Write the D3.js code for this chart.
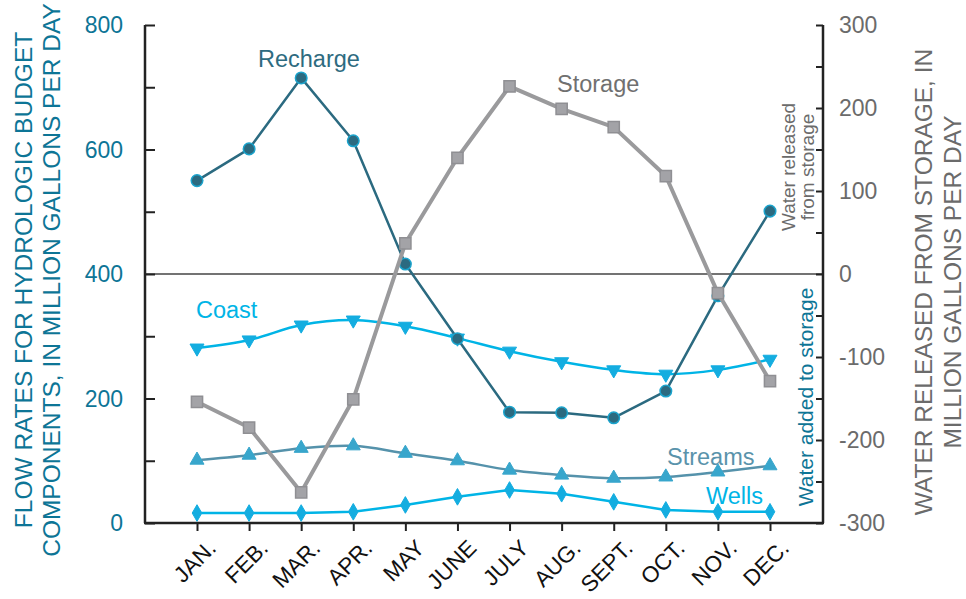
<!DOCTYPE html>
<html><head><meta charset="utf-8">
<script src="https://cdn.jsdelivr.net/npm/d3@7"></script>
<style>body{margin:0;background:#fff}svg{display:block;font-family:"Liberation Sans",Arial,sans-serif}</style>
</head><body><svg id="c" width="966" height="599"></svg>
<script>
const months = ["JAN.","FEB.","MAR.","APR.","MAY","JUNE","JULY","AUG.","SEPT.","OCT.","NOV.","DEC."];
const recharge = [550,601,715,614,416,296,178,177,169,212,365,501];
const storage  = [-154,-185,-263,-151,37,140,226,199,177,118,-23,-129];
const coast    = [281,294,318,326,316,297,276,259,246,239,246,263];
const streams  = [101,109,120,124,112,100,85,77,72,74,82,92];
const wells    = [16,16,16,18,29,42,53,47,34,21,18,18];
const leftTicks = [0,200,400,600,800];
const rightTicks = [-300,-200,-100,0,100,200,300];

const svg = d3.select("#c");
const L=145, R=823, T=25, B=523;
const x = d3.scalePoint().domain(months).range([197,770]);
const yL = d3.scaleLinear().domain([0,800]).range([B,T]);
const yR = d3.scaleLinear().domain([-300,300]).range([B,T]);

const teal="#0d7596", gray="#6b6b6b";

// zero line
svg.append("line").attr("x1",L).attr("x2",R).attr("y1",yR(0)).attr("y2",yR(0)).attr("stroke","#444").attr("stroke-width",1.5);

// left axis
const gl = svg.append("g").attr("transform",`translate(${L},0)`)
  .call(d3.axisRight(yL).tickValues(d3.range(0,801,100)).tickSize(10).tickFormat(""));
gl.select(".domain").attr("stroke","#222").attr("stroke-width",2.5).attr("d",`M0,${T}V${B}`);
gl.selectAll(".tick line").attr("stroke","#222").attr("stroke-width",2);
svg.append("g").selectAll("text").data(leftTicks).join("text")
  .attr("x",123).attr("y",d=>yL(d)).attr("dy","0.36em").attr("text-anchor","end")
  .attr("font-size",23).attr("fill",teal).text(d=>d);

// right axis
const gr = svg.append("g").attr("transform",`translate(${R},0)`)
  .call(d3.axisLeft(yR).tickValues(d3.range(-300,301,50)).tickSize(7).tickFormat(""));
gr.select(".domain").attr("stroke","#222").attr("stroke-width",2.5).attr("d",`M0,${T}V${B}`);
gr.selectAll(".tick line").attr("stroke","#222").attr("stroke-width",2);
svg.append("g").selectAll("text").data(rightTicks).join("text")
  .attr("x",839).attr("y",d=>yR(d)).attr("dy","0.36em").attr("text-anchor","start")
  .attr("font-size",23).attr("fill",gray).text(d=>d);

// bottom axis
const gb = svg.append("g").attr("transform",`translate(0,${B})`)
  .call(d3.axisBottom(x).tickSize(8).tickFormat(""));
gb.select(".domain").attr("stroke","#222").attr("stroke-width",2.5).attr("d",`M${L-1},0H${R+1}`);
gb.selectAll(".tick line").attr("stroke","#222").attr("stroke-width",2);
svg.append("g").selectAll("text").data(months).join("text")
  .attr("transform",d=>`translate(${x(d)+9},${B+15}) rotate(-45)`)
  .attr("text-anchor","end").attr("dy","0.72em").attr("font-size",22.5).attr("fill","#111").text(d=>d);

// axis titles
const lt = svg.append("text").attr("transform",`translate(32,280) rotate(-90)`)
  .attr("text-anchor","middle").attr("font-size",24.5).attr("fill",teal);
lt.append("tspan").attr("x",0).attr("y",0).text("FLOW RATES FOR HYDROLOGIC BUDGET");
lt.append("tspan").attr("x",0).attr("y",28).text("COMPONENTS, IN MILLION GALLONS PER DAY");
const rt = svg.append("text").attr("transform",`translate(932,282) rotate(-90)`)
  .attr("text-anchor","middle").attr("font-size",24.5).attr("fill",gray);
rt.append("tspan").attr("x",0).attr("y",0).text("WATER RELEASED FROM STORAGE, IN");
rt.append("tspan").attr("x",0).attr("y",29).text("MILLION GALLONS PER DAY");

// series helpers
function series(data, yScale, color, width, curve){
  svg.append("path").datum(data)
    .attr("d", d3.line().x((d,i)=>x(months[i])).y(d=>yScale(d)).curve(curve))
    .attr("fill","none").attr("stroke",color).attr("stroke-width",width).attr("stroke-linejoin","round");
}
function markers(data, yScale, type, size, fill, stroke, sw, rot){
  svg.append("g").selectAll("path").data(data).join("path")
    .attr("d", d3.symbol().type(type).size(size))
    .attr("transform",(d,i)=>`translate(${x(months[i])},${yScale(d)}) rotate(${rot||0})`)
    .attr("fill",fill).attr("stroke",stroke).attr("stroke-width",sw);
}

series(wells, yL, "#00b4e6", 2.5, d3.curveLinear);
markers(wells, yL, d3.symbolDiamond, 80, "#14ade0", "#14ade0", 1);
series(streams, yL, "#5592ab", 2.5, d3.curveCatmullRom);
markers(streams, yL, d3.symbolTriangle, 85, "#38a6cc", "#38a6cc", 1);
series(coast, yL, "#00b4e6", 2.5, d3.curveCatmullRom);
markers(coast, yL, d3.symbolTriangle, 85, "#14ade0", "#14ade0", 1, 180);
series(recharge, yL, "#2b6a80", 2.5, d3.curveLinear);
markers(recharge, yL, d3.symbolCircle, 105, "#2b6a80", "#1aa3cc", 1.5);
series(storage, yR, "#9a9a9c", 4, d3.curveLinear);
markers(storage, yR, d3.symbolSquare, 125, "#a3a3a7", "#8f8f93", 1.5);

// in-plot labels
function lab(t,xx,yy,c,fs){svg.append("text").attr("x",xx).attr("y",yy).attr("font-size",fs||23.5).attr("fill",c).text(t);}
lab("Recharge",258,67,"#2e6b80");
lab("Storage",557,92,"#707070");
lab("Coast",196,318,"#00b4e6");
lab("Streams",667,465,"#5a93ab");
lab("Wells",706,504,"#00b4e6");

const wr = svg.append("text").attr("transform","translate(795,167) rotate(-90)")
  .attr("text-anchor","middle").attr("font-size",19).attr("fill",gray);
wr.append("tspan").attr("x",0).attr("y",0).text("Water released");
wr.append("tspan").attr("x",0).attr("y",19).text("from storage");
svg.append("text").attr("transform","translate(813,397) rotate(-90)")
  .attr("text-anchor","middle").attr("font-size",21).attr("fill",teal).text("Water added to storage");
</script></body></html>
